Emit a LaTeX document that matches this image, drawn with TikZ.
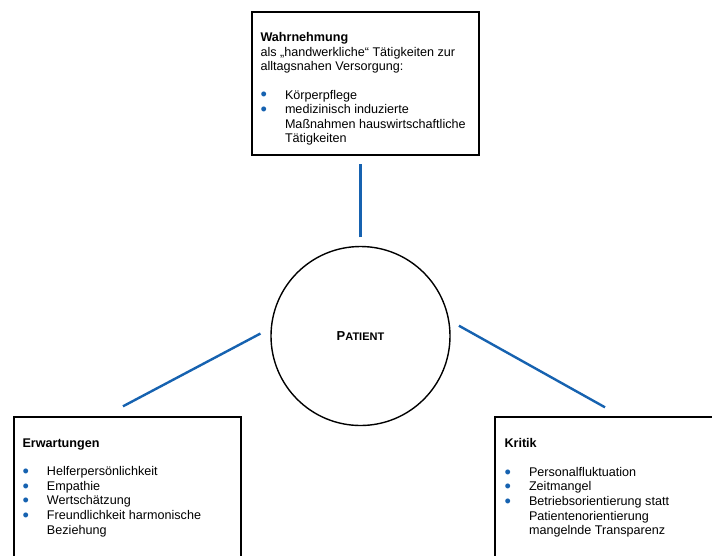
\documentclass[tikz,border=0pt]{standalone}
\usepackage{fontspec}
\setmainfont{Liberation Sans}
\definecolor{lineblue}{RGB}{22,98,176}
\newcommand{\bul}{\makebox[24.5pt][l]{\textcolor{lineblue}{\smash{\raisebox{-1.8pt}{\scalebox{1.45}{\textbullet}}}}}}
\newcommand{\ind}{\hspace*{24.5pt}}
\begin{document}
\begin{tikzpicture}[x=1pt,y=-1pt,
    box/.style={draw,line width=1.4pt,minimum width=227pt,minimum height=143pt,inner sep=0pt},
    txt/.style={anchor=north west,inner sep=0pt,align=left,font=\fontsize{12.6}{14.6}\selectfont},
    link/.style={draw=lineblue,line width=2.4pt}]
  \clip (0,0) rectangle (712,555);
  \node[box] (wahr) at (365.5,83.5) {};
  \node[box] (erw) at (127.5,488.5) {};
  \node[box] (krit) at (608.5,488.5) {};
  \node[circle,draw,line width=1.4pt,minimum size=179pt,inner sep=0pt] (patient) at (360.5,336)
    {\bfseries\fontsize{13}{13}\selectfont P\fontsize{11}{11}\selectfont ATIENT};
  \node[txt] (wahrtxt) at ([shift={(9,21)}]wahr.north west)
    {\textbf{Wahrnehmung}\\ als „handwerkliche“ Tätigkeiten zur\\ alltagsnahen Versorgung:\\[13.7pt]
     \bul Körperpflege\\ \bul medizinisch induzierte\\ \ind Maßnahmen hauswirtschaftliche\\ \ind Tätigkeiten};
  \node[txt] (erwtxt) at ([shift={(9,22)}]erw.north west)
    {\textbf{Erwartungen}\\[14pt] \bul Helferpersönlichkeit\\ \bul Empathie\\ \bul Wertschätzung\\
     \bul Freundlichkeit harmonische\\ \ind Beziehung};
  \node[txt] (krittxt) at ([shift={(10,22)}]krit.north west)
    {\textbf{Kritik}\\[14pt] \bul Personalfluktuation\\ \bul Zeitmangel\\ \bul Betriebsorientierung statt\\
     \ind Patientenorientierung\\ \ind mangelnde Transparenz};
  \coordinate (erwtip) at ([shift={(-4.5,-10)}]erw.north);
  \coordinate (krittip) at ([shift={(-3.5,-9)}]krit.north);
  \draw[link,shorten <=8.5pt,shorten >=8pt] (patient.north) -- (patient.north |- wahr.south);
  \draw[link,shorten <=11.5pt] (patient.175) -- (erwtip);
  \draw[link,shorten <=11pt] (patient.10) -- (krittip);
\end{tikzpicture}
\end{document}
